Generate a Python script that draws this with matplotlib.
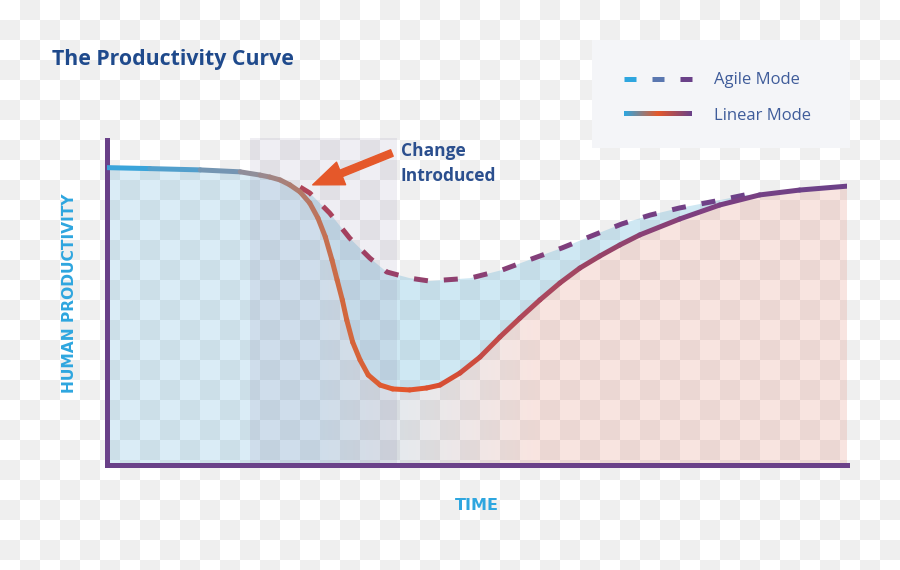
import numpy as np
import matplotlib
matplotlib.use("Agg")
import matplotlib.pyplot as plt
from matplotlib.collections import LineCollection
from matplotlib.colors import LinearSegmentedColormap, ListedColormap
from matplotlib.patches import Polygon, Rectangle

# productivity (0-100) over time (0-100)
linear_x = [0.0, 5.8, 12.6, 18.0, 20.7, 22.0, 23.4, 24.7, 26.1, 27.4, 28.5, 29.5,
            30.4, 31.1, 31.8, 32.4, 33.2, 34.2, 35.3, 36.9, 38.6, 40.9, 43.2,
            45.0, 47.7, 50.4, 53.1, 55.8, 58.5, 61.2, 63.9, 66.6, 69.3, 72.0,
            77.4, 82.8, 88.2, 93.6, 100.0]
linear_y = [91.5, 91.2, 90.8, 90.2, 89.2, 88.6, 87.7, 86.2, 84.0, 80.6, 76.0, 70.2,
            63.1, 56.9, 50.8, 44.6, 37.8, 32.3, 27.7, 24.6, 23.4, 23.1, 23.7,
            24.6, 28.3, 33.2, 39.4, 45.2, 50.8, 56.0, 60.6, 64.3, 67.7, 70.8,
            75.7, 80.0, 83.1, 84.6, 85.8]

agile_x = [26.1, 27.4, 30.1, 32.8, 35.5, 37.8, 40.9, 43.6, 49.1, 53.4, 57.4, 61.5,
           65.5, 69.6, 73.4, 77.4, 82.2, 86.2, 88.2]
agile_y = [85.5, 83.7, 77.5, 69.8, 63.7, 59.4, 57.5, 56.6, 57.5, 60.0, 63.4, 66.8,
           70.5, 74.2, 76.9, 79.1, 81.2, 83.1, 83.1]

change_band = [19.3, 39.2]          # period where the change is introduced
arrow_tip = (27.8, 86.2)
arrow_tail = (38.5, 96.0)

series_names = ["Agile Mode", "Linear Mode"]

W, H = 900, 570
PURPLE = "#6a4189"
CYAN = "#2ea6df"
NAVY = "#1f4a8c"

line_cmap = LinearSegmentedColormap.from_list("linear", [
    (0.00, "#2fa7e0"), (0.12, "#5d9cc6"), (0.20, "#958c95"), (0.26, "#b07a6c"),
    (0.32, "#d2683e"), (0.40, "#e4562b"), (0.48, "#d24c38"), (0.57, "#b0475a"),
    (0.66, "#9a4465"), (0.80, "#7f4080"), (1.00, PURPLE)])
agile_cmap = LinearSegmentedColormap.from_list("agile", ["#b04458", "#8f3f6e", "#7a3f82", PURPLE])
legend_cmap = LinearSegmentedColormap.from_list("leg", [CYAN, "#e5582a", PURPLE])

fig = plt.figure(figsize=(9, 5.7), dpi=100)

# transparency checkerboard behind everything
bg = fig.add_axes([0, 0, 1, 1])
bg.axis("off")
rows, cols = 29, 45
checker = np.add.outer(np.arange(rows), np.arange(cols)) % 2
bg.imshow(checker, cmap=ListedColormap(["#ffffff", "#efefef"]),
          extent=(0, cols * 20, rows * 20, 0), interpolation="nearest", aspect="auto")
bg.set_xlim(0, W)
bg.set_ylim(H, 0)

ax = fig.add_axes([107 / W, (H - 465) / H, 740 / W, 325 / H])
ax.set_facecolor("none")
lx, ly = np.array(linear_x), np.array(linear_y)
ax_, ay = np.array(agile_x), np.array(agile_y)

# gradient fill under the linear curve
under = Polygon(np.column_stack([np.r_[lx, 100, 0], np.r_[ly, 0, 0]]), closed=True,
                facecolor="none", edgecolor="none")
ax.add_patch(under)
c_left, c_right = np.array([20, 140, 200]) / 255, np.array([215, 88, 62]) / 255
t = np.clip((np.linspace(0, 1, 200) - 0.28) / 0.3, 0, 1)
grad = np.zeros((1, 200, 4))
grad[0, :, :3] = c_left[None] * (1 - t[:, None]) + c_right[None] * t[:, None]
grad[0, :, 3] = 0.16
im = ax.imshow(grad, extent=(0, 100, 0, 100), aspect="auto", interpolation="bilinear")
im.set_clip_path(under)

# fill between the two modes
mask = (lx > ax_[0]) & (lx < ax_[-1])
ax.fill(np.r_[ax_, lx[mask][::-1]], np.r_[ay, ly[mask][::-1]],
        color=(80 / 255, 170 / 255, 212 / 255), alpha=0.27, lw=0)

# change band
ax.add_patch(Rectangle((change_band[0], 0), change_band[1] - change_band[0], 100.6,
                       facecolor=(130 / 255, 120 / 255, 160 / 255), alpha=0.12,
                       lw=0, clip_on=False))

ax.set_xlim(0, 100)
ax.set_ylim(0, 100)

# linear mode, gradient coloured
segs = [[(lx[i], ly[i]), (lx[i + 1], ly[i + 1])] for i in range(len(lx) - 1)]
cols_l = [line_cmap((lx[i] + lx[i + 1]) / 200) for i in range(len(lx) - 1)]
ax.add_collection(LineCollection(segs, colors=cols_l, linewidths=3.6,
                                 capstyle="round", joinstyle="round", zorder=4))

# agile mode, dashed with colour running along the curve
pts = ax.transData.transform(np.column_stack([ax_, ay]))
d = np.r_[0, np.cumsum(np.hypot(*np.diff(pts, axis=0).T))]
total = d[-1]
dash, gap = 14, 16
dashes, dcols = [], []
s = 0.0
while s < total:
    e = min(s + dash, total)
    inner = [pts[i] for i in range(len(d)) if s < d[i] < e]
    p0 = np.array([np.interp(s, d, pts[:, 0]), np.interp(s, d, pts[:, 1])])
    p1 = np.array([np.interp(e, d, pts[:, 0]), np.interp(e, d, pts[:, 1])])
    piece = np.array([p0] + inner + [p1])
    dashes.append(ax.transData.inverted().transform(piece))
    dcols.append(agile_cmap(s / total))
    s += dash + gap
ax.add_collection(LineCollection(dashes, colors=dcols, linewidths=3.6,
                                 capstyle="butt", joinstyle="round", zorder=3))

for side in ["top", "right"]:
    ax.spines[side].set_visible(False)
for side in ["left", "bottom"]:
    ax.spines[side].set_color(PURPLE)
    ax.spines[side].set_linewidth(3.6)
    ax.spines[side].set_capstyle("projecting")
ax.set_xticks([])
ax.set_yticks([])

ax.annotate("", xy=arrow_tip, xytext=arrow_tail, annotation_clip=False,
            arrowprops=dict(arrowstyle="simple,head_length=2.2,head_width=1.75,tail_width=0.5",
                            color="#e5582a", mutation_scale=10, shrinkA=0, shrinkB=0))

# overlay in pixel coordinates: titles, labels, legend
ov = fig.add_axes([0, 0, 1, 1])
ov.axis("off")
ov.patch.set_visible(False)

ov.text(52, 59, "The Productivity Curve", family="Open Sans", weight="bold",
        fontsize=15.3, color=NAVY, va="center", ha="left")
ov.text(401, 151, "Change", family="Open Sans", weight="bold", fontsize=12.5,
        color="#2b4f8e", va="center", ha="left")
ov.text(401, 176, "Introduced", family="Open Sans", weight="bold", fontsize=12.5,
        color="#2b4f8e", va="center", ha="left")
ov.text(70, 293, "HUMAN PRODUCTIVITY", family="DejaVu Sans", weight="bold",
        fontsize=11.2, color=CYAN, rotation=90, va="center", ha="center")
ov.text(477, 505, "TIME", family="DejaVu Sans", weight="bold", fontsize=11.5,
        color=CYAN, va="center", ha="center")

ov.add_patch(Rectangle((592, 40), 258, 108, facecolor="#f4f5f8", edgecolor="none", zorder=1))
for x0, c in zip([624, 652, 680], [CYAN, "#5a77b0", PURPLE]):
    ov.plot([x0, x0 + 12], [79, 79], color=c, lw=3.6, solid_capstyle="butt", zorder=3)
ov.imshow(np.linspace(0, 1, 100)[None, :], cmap=legend_cmap, aspect="auto",
          extent=(624, 692, 116.5, 111.5), interpolation="bilinear", zorder=3)
for y, name in zip([80, 116], series_names):
    ov.text(714, y, name, family="Open Sans", fontsize=12, color="#3f5c9a",
            va="center", ha="left", zorder=3)
ov.set_xlim(0, W)
ov.set_ylim(H, 0)

fig.savefig("out.png", dpi=100)
